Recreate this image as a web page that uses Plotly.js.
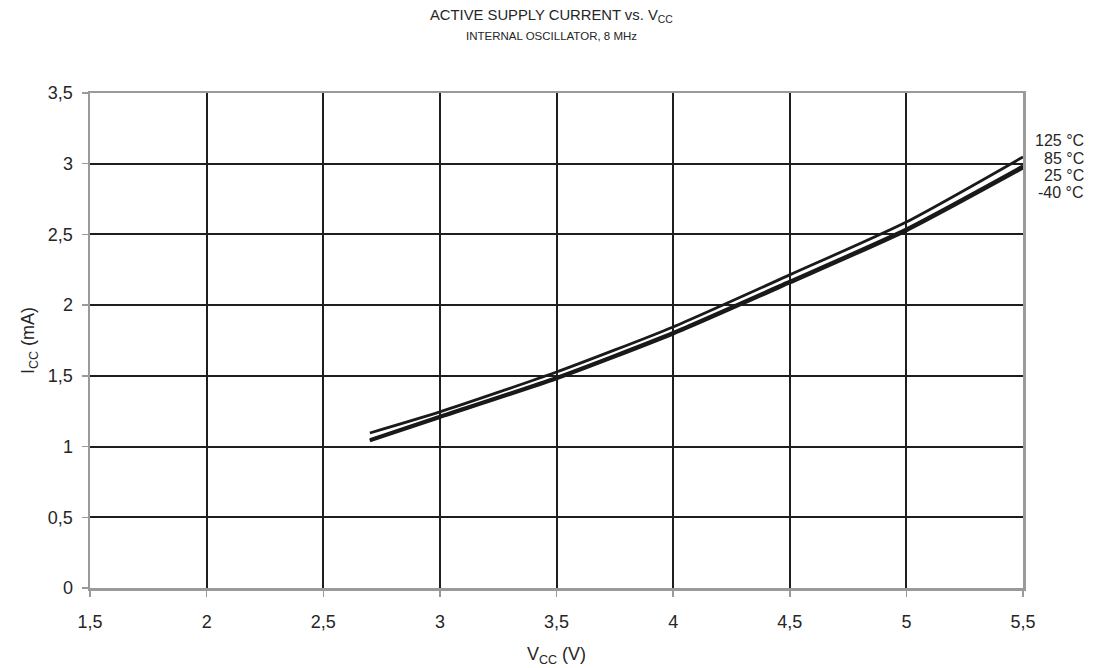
<!DOCTYPE html>
<html>
<head>
<meta charset="utf-8">
<script src="https://cdn.plot.ly/plotly-3.0.1.min.js"></script>
<style>html,body{margin:0;padding:0;background:#fff;}#chart{width:1102px;height:668px;}</style>
</head>
<body>
<div id="chart"></div>
<script>
const vcc = [2.7, 3.0, 3.5, 4.0, 4.5, 5.0, 5.5];
const icc125 = [1.096, 1.245, 1.527, 1.846, 2.214, 2.588, 3.048];
const icc85 = [1.050, 1.215, 1.490, 1.808, 2.170, 2.540, 2.985];
const icc25 = [1.045, 1.210, 1.485, 1.800, 2.163, 2.532, 2.975];
const iccM40 = [1.040, 1.205, 1.478, 1.795, 2.156, 2.525, 2.968];
const seriesNames = ['125 °C', '85 °C', '25 °C', '-40 °C'];
const seriesData = [icc125, icc85, icc25, iccM40];
const labelY = [3.162, 3.040, 2.918, 2.796];
const xTicks = [1.5, 2, 2.5, 3, 3.5, 4, 4.5, 5, 5.5];
const yTicks = [0, 0.5, 1, 1.5, 2, 2.5, 3, 3.5];

const traces = seriesData.map((d, i) => ({
  x: vcc, y: d, type: 'scatter', mode: 'lines', name: seriesNames[i],
  line: {color: '#1a1a1a', width: 2.8, shape: 'spline', smoothing: 0.6},
  hoverinfo: 'skip'
}));

const font = {family: 'Liberation Sans, Arial, sans-serif', color: '#262626'};
const annotations = seriesNames.map((n, i) => ({
  text: n, xref: 'paper', yref: 'y', x: 1.067, y: labelY[i],
  xanchor: 'right', yanchor: 'middle', showarrow: false,
  font: Object.assign({}, font, {size: 16})
}));
annotations.push({
  text: 'ACTIVE SUPPLY CURRENT vs. V<sub>CC</sub>', xref: 'paper', yref: 'paper',
  x: 0.495, y: 1.1556, xanchor: 'center', yanchor: 'middle', showarrow: false,
  font: Object.assign({}, font, {size: 14.8})
});
annotations.push({
  text: 'INTERNAL OSCILLATOR, 8 MHz', xref: 'paper', yref: 'paper',
  x: 0.495, y: 1.115, xanchor: 'center', yanchor: 'middle', showarrow: false,
  font: Object.assign({}, font, {size: 11.5})
});

const layout = {
  width: 1102, height: 668,
  margin: {l: 90, r: 79, t: 93, b: 80},
  paper_bgcolor: '#fff', plot_bgcolor: '#fff',
  separators: ',.',
  showlegend: false,
  font: Object.assign({}, font, {size: 18}),
  xaxis: {
    range: [1.5, 5.5], tickvals: xTicks, ticktext: xTicks.map(v => String(v).replace('.', ',')),
    showgrid: true, gridcolor: '#1e1e1e', gridwidth: 2,
    showline: true, linecolor: '#9a9a9a', linewidth: 2.5, mirror: true,
    ticks: 'outside', ticklen: 6, tickcolor: '#9a9a9a', tickwidth: 1.5,
    ticklabelstandoff: 10,
    zeroline: false, tickfont: Object.assign({}, font, {size: 18}),
    title: {text: 'V<sub>CC</sub> (V)', font: Object.assign({}, font, {size: 18}), standoff: 17}
  },
  yaxis: {
    range: [0, 3.5], tickvals: yTicks, ticktext: yTicks.map(v => String(v).replace('.', ',')),
    showgrid: true, gridcolor: '#1e1e1e', gridwidth: 2,
    showline: true, linecolor: '#9a9a9a', linewidth: 2.5, mirror: true,
    ticks: 'outside', ticklen: 6, tickcolor: '#9a9a9a', tickwidth: 1.5,
    ticklabelstandoff: 5,
    zeroline: false, tickfont: Object.assign({}, font, {size: 18}),
    title: {text: 'I<sub>CC</sub> (mA)', font: Object.assign({}, font, {size: 18}), standoff: 9}
  },
  annotations: annotations
};

Plotly.newPlot('chart', traces, layout, {staticPlot: true, displayModeBar: false});
</script>
</body>
</html>
